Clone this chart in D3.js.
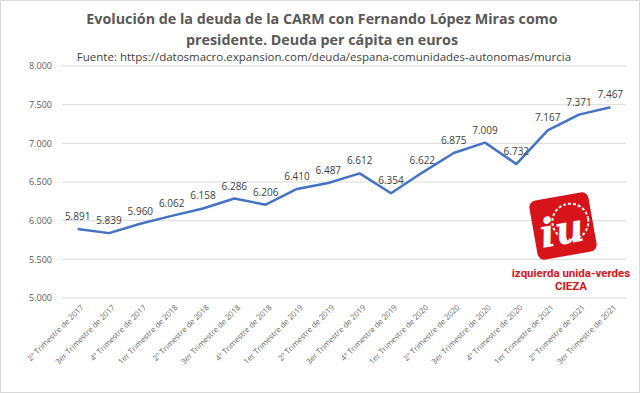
<!DOCTYPE html>
<html>
<head>
<meta charset="utf-8">
<script src="https://cdn.jsdelivr.net/npm/d3@7"></script>
<style>
  body { margin: 0; background: #fff; }
  svg { display: block; }
</style>
</head>
<body>
<div id="chart"></div>
<script>
const quarters = [
  "2º Trimestre de 2017", "3er Trimestre de 2017", "4º Trimestre de 2017",
  "1er Trimestre de 2018", "2º Trimestre de 2018", "3er Trimestre de 2018",
  "4º Trimestre de 2018", "1er Trimestre de 2019", "2º Trimestre de 2019",
  "3er Trimestre de 2019", "4º Trimestre de 2019", "1er Trimestre de 2020",
  "2º Trimestre de 2020", "3er Trimestre de 2020", "4º Trimestre de 2020",
  "1er Trimestre de 2021", "2º Trimestre de 2021", "3er Trimestre de 2021"
];
const deuda = [5891, 5839, 5960, 6062, 6158, 6286, 6206, 6410, 6487, 6612,
  6354, 6622, 6875, 7009, 6732, 7167, 7371, 7467];
const yTicks = [5000, 5500, 6000, 6500, 7000, 7500, 8000];
const titleLines = [
  "Evolución de la deuda de la CARM con Fernando López Miras como",
  "presidente. Deuda per cápita en euros"
];
const sourceText = "Fuente: https://datosmacro.expansion.com/deuda/espana-comunidades-autonomas/murcia";

const W = 640, H = 393;
const margin = { top: 66, right: 14, bottom: 95, left: 62 };
const fmt = d3.formatLocale({ decimal: ",", thousands: ".", grouping: [3], currency: ["", "€"] }).format(",d");

const svg = d3.select("#chart").append("svg")
  .attr("width", W).attr("height", H)
  .style("font-family", "'Open Sans', sans-serif");

svg.append("rect")
  .attr("x", 0.5).attr("y", 0.5)
  .attr("width", W - 1).attr("height", H - 1)
  .attr("fill", "#fff").attr("stroke", "#d9d9d9");

const x = d3.scalePoint()
  .domain(quarters)
  .range([margin.left, W - margin.right])
  .padding(0.5);
const y = d3.scaleLinear()
  .domain([5000, 8000])
  .range([298, 66]);

// grid
svg.append("g")
  .selectAll("line")
  .data(yTicks)
  .join("line")
  .attr("x1", margin.left).attr("x2", W - margin.right)
  .attr("y1", d => y(d)).attr("y2", d => y(d))
  .attr("stroke", "#d9d9d9").attr("stroke-width", 1);

// y axis labels
const yAxis = svg.append("g")
  .attr("transform", `translate(${margin.left},0)`)
  .call(d3.axisLeft(y).tickValues(yTicks).tickFormat(fmt).tickSize(0).tickPadding(10));
yAxis.select(".domain").remove();
yAxis.selectAll("text")
  .attr("fill", "#595959").style("font-size", "9px").style("font-family", "'Open Sans', sans-serif");

// x axis labels
const xAxis = svg.append("g")
  .attr("transform", `translate(0,${y(5000)})`)
  .call(d3.axisBottom(x).tickSize(0).tickPadding(0));
xAxis.select(".domain").remove();
xAxis.selectAll("text")
  .attr("fill", "#666")
  .style("font-size", "7.8px")
  .style("font-family", "'Open Sans', sans-serif")
  .attr("text-anchor", "end")
  .attr("dy", 0)
  .attr("transform", "translate(6,10) rotate(-45)");

// line
const line = d3.line()
  .x((d, i) => x(quarters[i]))
  .y(d => y(d));
svg.append("path")
  .datum(deuda)
  .attr("d", line)
  .attr("fill", "none")
  .attr("stroke", "#4472c4")
  .attr("stroke-width", 2.5)
  .attr("stroke-linejoin", "round");

// data labels
svg.append("g")
  .selectAll("text")
  .data(deuda)
  .join("text")
  .attr("x", (d, i) => x(quarters[i]))
  .attr("y", d => y(d) - 9)
  .attr("text-anchor", "middle")
  .attr("fill", "#404040")
  .style("font-size", "10px")
  .text(d => fmt(d));

// title
svg.append("g")
  .selectAll("text")
  .data(titleLines)
  .join("text")
  .attr("x", 322)
  .attr("y", (d, i) => 24 + i * 21)
  .attr("text-anchor", "middle")
  .attr("fill", "#595959")
  .style("font-size", "14.3px")
  .style("font-weight", "bold")
  .text(d => d);

svg.append("text")
  .attr("x", 324).attr("y", 61)
  .attr("text-anchor", "middle")
  .attr("fill", "#404040")
  .style("font-size", "11.5px")
  .text(sourceText);

// logo
const logo = svg.append("g").attr("transform", "translate(563,226) rotate(-10)");
logo.append("rect")
  .attr("x", -30).attr("y", -30).attr("width", 60).attr("height", 60)
  .attr("rx", 7).attr("fill", "#d7141a");
logo.append("circle").attr("cx", 8).attr("cy", -3).attr("r", 18)
  .attr("fill", "none").attr("stroke", "#fff").attr("stroke-width", 2).attr("stroke-dasharray", "3 2");
logo.append("text")
  .attr("x", -2).attr("y", 18)
  .attr("text-anchor", "middle")
  .attr("fill", "#fff")
  .style("font-size", "40px").style("font-weight", "bold").style("font-style", "italic")
  .style("font-family", "'DejaVu Serif', serif")
  .text("iu");
svg.append("text")
  .attr("x", 571).attr("y", 277)
  .attr("text-anchor", "middle").attr("fill", "#d7141a")
  .style("font-size", "11.5px").style("font-weight", "bold")
  .style("font-family", "'Liberation Sans Narrow', 'Roboto', sans-serif")
  .text("izquierda unida-verdes");
svg.append("text")
  .attr("x", 571).attr("y", 290)
  .attr("text-anchor", "middle").attr("fill", "#d7141a")
  .style("font-size", "11.5px").style("font-weight", "bold")
  .style("font-family", "'Liberation Sans Narrow', 'Roboto', sans-serif")
  .text("CIEZA");
</script>
</body>
</html>
